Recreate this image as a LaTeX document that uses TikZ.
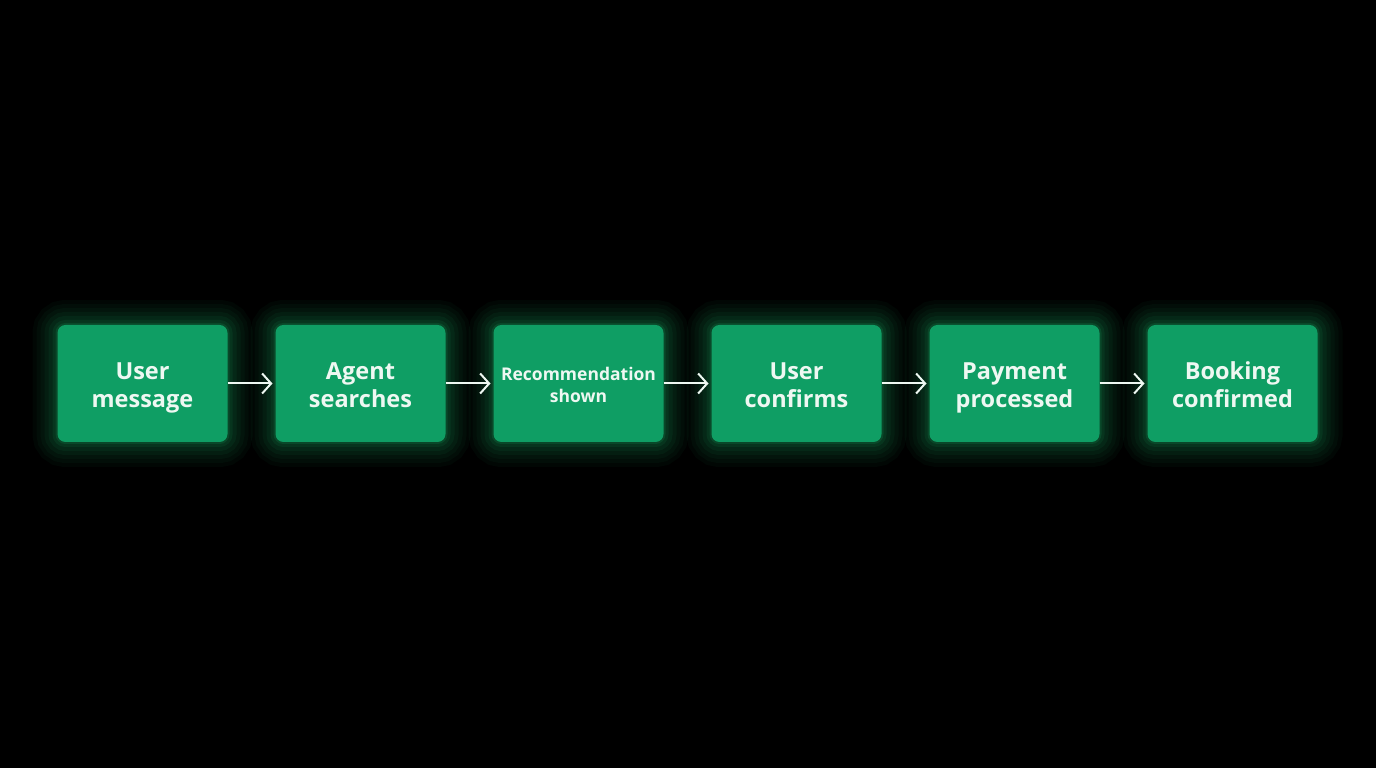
\documentclass[tikz,border=0pt]{standalone}
\usepackage{fontspec}
\setmainfont{Open Sans}
\usetikzlibrary{positioning}
\usetikzlibrary{arrows.meta}

\definecolor{boxgreen}{HTML}{0F9E64}
\definecolor{glowgreen}{HTML}{1FD67C}
\definecolor{labelwhite}{HTML}{EEF8F2}

% two centred lines, set a little lower in the box
\newcommand{\twolines}[2]{\rule{0pt}{\dimexpr0.7\baselineskip+8pt\relax}#1\\\strut #2}

\begin{document}
\begin{tikzpicture}[x=1pt,y=1pt,
  stage/.style={fill=boxgreen,rounded corners=8pt,minimum width=170pt,minimum height=117pt,
    inner sep=0pt,outer sep=0pt,align=center,text=labelwhite,font=\bfseries\fontsize{23.5}{28}\selectfont,
    preaction={draw=glowgreen,line width=50pt,opacity=0.035},
    preaction={draw=glowgreen,line width=42pt,opacity=0.035},
    preaction={draw=glowgreen,line width=34pt,opacity=0.04},
    preaction={draw=glowgreen,line width=26pt,opacity=0.05},
    preaction={draw=glowgreen,line width=18pt,opacity=0.06},
    preaction={draw=glowgreen,line width=10pt,opacity=0.08},
    preaction={draw=glowgreen,line width=4pt,opacity=0.12}},
  flow/.style={draw=labelwhite,line width=2pt,-{Straight Barb[length=9pt,width=20pt,line width=2pt]},shorten >=3pt}]

\fill[black] (0,0) rectangle (1376,768);
\useasboundingbox (0,0) rectangle (1376,768);

\node[stage] (user msg) at (142.5,384.5) {\twolines{User}{message}};
\node[stage,right=48pt of user msg] (agent) {\twolines{Agent}{searches}};
\node[stage,right=48pt of agent,font=\bfseries\fontsize{17.5}{22}\selectfont] (recommend) {\twolines{Recommendation}{shown}};
\node[stage,right=48pt of recommend] (confirm) {\twolines{User}{confirms}};
\node[stage,right=48pt of confirm] (payment) {\twolines{Payment}{processed}};
\node[stage,right=48pt of payment] (booking) {\twolines{Booking}{confirmed}};

\draw[flow] (user msg) -- (agent);
\draw[flow] (agent) -- (recommend);
\draw[flow] (recommend) -- (confirm);
\draw[flow] (confirm) -- (payment);
\draw[flow] (payment) -- (booking);
\end{tikzpicture}
\end{document}
